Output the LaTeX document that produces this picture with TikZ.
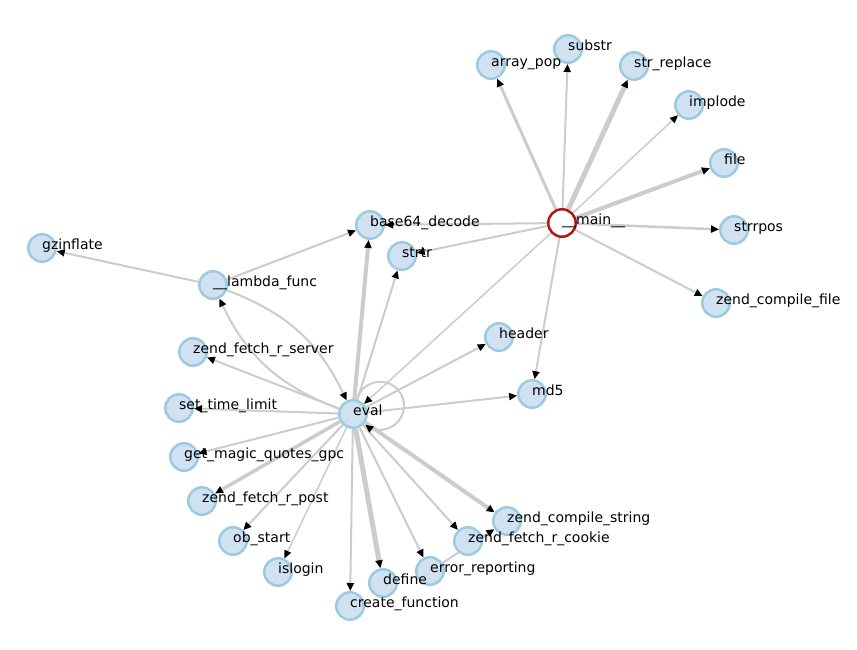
\documentclass[tikz,border=0pt]{standalone}
\usepackage{fontspec}
\setmainfont{DejaVu Sans}
\usetikzlibrary{arrows.meta,backgrounds}
\definecolor{edgec}{RGB}{204,204,204}
\definecolor{nodefill}{RGB}{208,226,242}
\definecolor{nodedraw}{RGB}{158,202,225}
\definecolor{mainred}{RGB}{178,20,20}
\tikzset{
  fn/.style={circle, minimum size=27.5pt, inner sep=0pt, line width=2.5pt, draw=nodedraw, fill=nodefill},
  mainfn/.style={circle, minimum size=27.5pt, inner sep=0pt, line width=2.5pt, draw=mainred, fill=white},
  lab/.style={anchor=base west, inner sep=0pt, font=\fontsize{14}{16}\selectfont},
  e/.style={draw=edgec, line width=2pt, -{Triangle[length=8pt,width=7pt,color=black]}},
}
\begin{document}
\begin{tikzpicture}[x=1pt,y=-1pt]
\useasboundingbox (0,0) rectangle (857,649);
% nodes
\node[mainfn] (main) at (562,223) {};
\node[fn] (arraypop) at (491,65) {};
\node[fn] (substr) at (568,49) {};
\node[fn] (strreplace) at (634,66) {};
\node[fn] (implode) at (689,105) {};
\node[fn] (file) at (724,163) {};
\node[fn] (strrpos) at (734,230) {};
\node[fn] (zcf) at (716,303) {};
\node[fn] (base64) at (370,225) {};
\node[fn] (strtr) at (402,256) {};
\node[fn] (gzinflate) at (42,248) {};
\node[fn] (lambda) at (213,285) {};
\node[fn] (server) at (193,352) {};
\node[fn] (header) at (499,337) {};
\node[fn] (md5) at (532,394) {};
\node[fn] (eval) at (353,414) {};
\node[fn] (settime) at (179,408) {};
\node[fn] (gmq) at (184,457) {};
\node[fn] (post) at (202,501) {};
\node[fn] (obstart) at (233,541) {};
\node[fn] (islogin) at (278,572) {};
\node[fn] (createf) at (350,606) {};
\node[fn] (define) at (383,583) {};
\node[fn] (errrep) at (430,571) {};
\node[fn] (cookie) at (468,541) {};
\node[fn] (zcs) at (507,521) {};
% edges
\begin{pgfonlayer}{background}
\fill[white] (0,0) rectangle (857,649);
\draw[e, line width=3pt] (main) -- (arraypop);
\draw[e] (main) -- (substr);
\draw[e, line width=5pt] (main) -- (strreplace);
\draw[e, line width=1.5pt] (main) -- (implode);
\draw[e, line width=4pt] (main) -- (file);
\draw[e, line width=2.5pt] (main) -- (strrpos);
\draw[e] (main) -- (zcf);
\draw[e] (main) -- (base64);
\draw[e] (main) -- (strtr);
\draw[e, line width=1.5pt] (main) -- (eval);
\draw[e] (main) -- (md5);
\draw[e] (lambda) -- (gzinflate);
\draw[e] (lambda) -- (base64);
\draw[e] (lambda) to[bend left=22] (eval);
\draw[e] (eval) to[bend left=22] (lambda);
\draw[e, line width=4pt] (eval) -- (base64);
\draw[e] (eval) -- (strtr);
\draw[e] (eval) -- (header);
\draw[e] (eval) -- (md5);
\draw[e] (eval) -- (server);
\draw[e] (eval) -- (settime);
\draw[e] (eval) -- (gmq);
\draw[e, line width=3.5pt] (eval) -- (post);
\draw[e] (eval) -- (obstart);
\draw[e, line width=1.5pt] (eval) -- (islogin);
\draw[e] (eval) -- (createf);
\draw[e, line width=5pt] (eval) -- (define);
\draw[e] (eval) -- (errrep);
\draw[e] (eval) -- (cookie);
\draw[e, line width=4pt] (eval) -- (zcs);
\draw[e] (errrep) -- (zcs);
\draw[e] (eval.75) arc[start angle=-165, end angle=128, radius=24];
\end{pgfonlayer}
% labels
\node[lab] at ([yshift=-1pt]main.center) {\_\_main\_\_};
\node[lab] at ([yshift=-1pt]arraypop.center) {array\_pop};
\node[lab] at ([yshift=-1pt]substr.center) {substr};
\node[lab] at ([yshift=-1pt]strreplace.center) {str\_replace};
\node[lab] at ([yshift=-1pt]implode.center) {implode};
\node[lab] at ([yshift=-1pt]file.center) {file};
\node[lab] at ([yshift=-1pt]strrpos.center) {strrpos};
\node[lab] at ([yshift=-1pt]zcf.center) {zend\_compile\_file};
\node[lab] at ([yshift=-1pt]base64.center) {base64\_decode};
\node[lab] at ([yshift=-1pt]strtr.center) {strtr};
\node[lab] at ([yshift=-1pt]gzinflate.center) {gzinflate};
\node[lab] at ([yshift=-1pt]lambda.center) {\_\_lambda\_func};
\node[lab] at ([yshift=-1pt]server.center) {zend\_fetch\_r\_server};
\node[lab] at ([yshift=-1pt]header.center) {header};
\node[lab] at ([yshift=-1pt]md5.center) {md5};
\node[lab] at ([yshift=-1pt]eval.center) {eval};
\node[lab] at ([yshift=-1pt]settime.center) {set\_time\_limit};
\node[lab] at ([yshift=-1pt]gmq.center) {get\_magic\_quotes\_gpc};
\node[lab] at ([yshift=-1pt]post.center) {zend\_fetch\_r\_post};
\node[lab] at ([yshift=-1pt]obstart.center) {ob\_start};
\node[lab] at ([yshift=-1pt]islogin.center) {islogin};
\node[lab] at ([yshift=-1pt]createf.center) {create\_function};
\node[lab] at ([yshift=-1pt]define.center) {define};
\node[lab] at ([yshift=-1pt]errrep.center) {error\_reporting};
\node[lab] at ([yshift=-1pt]cookie.center) {zend\_fetch\_r\_cookie};
\node[lab] at ([yshift=-1pt]zcs.center) {zend\_compile\_string};
\end{tikzpicture}
\end{document}
